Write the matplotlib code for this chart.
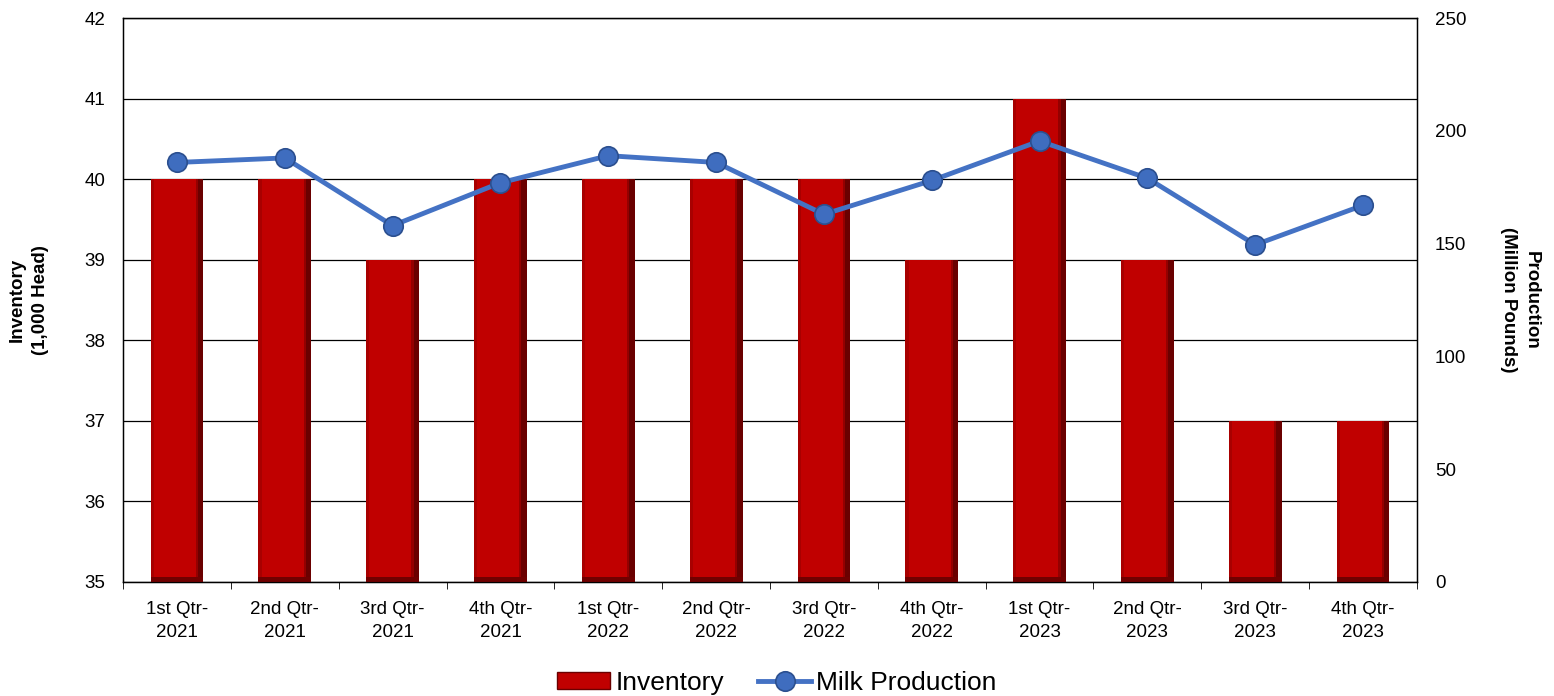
import matplotlib
matplotlib.use("Agg")
import matplotlib.pyplot as plt
import numpy as np
from matplotlib.patches import Patch

categories = ["1st Qtr-\n2021", "2nd Qtr-\n2021", "3rd Qtr-\n2021", "4th Qtr-\n2021",
              "1st Qtr-\n2022", "2nd Qtr-\n2022", "3rd Qtr-\n2022", "4th Qtr-\n2022",
              "1st Qtr-\n2023", "2nd Qtr-\n2023", "3rd Qtr-\n2023", "4th Qtr-\n2023"]
inventory = [40, 40, 39, 40, 40, 40, 40, 39, 41, 39, 37, 37]
milk = [186, 188, 158, 177, 189, 186, 163, 178, 195.5, 179, 149.5, 167]

plt.rcParams['font.family'] = ['Liberation Sans', 'DejaVu Sans']
FS = 13.5

fig = plt.figure(figsize=(15.54, 6.96), dpi=100)
ax = fig.add_axes([0.0792, 0.1638, 0.8326, 0.8102])
x = np.arange(len(categories))
bw = 0.49
base = 35
heights = [v - base for v in inventory]

ax.set_axisbelow(True)
ax.yaxis.grid(True, color='black', linewidth=0.9)
ax.bar(x, heights, bottom=base, width=bw, color='#C00000', zorder=2)
# bevel edges
ax.bar(x + bw/2 - 0.025, heights, bottom=base, width=0.05, color='#6a0000', zorder=3, linewidth=0)
ax.bar(x + bw/2 - 0.06, heights, bottom=base, width=0.02, color='#940000', zorder=3, linewidth=0)
ax.bar(x - bw/2 + 0.015, heights, bottom=base, width=0.03, color='#a80000', zorder=3, linewidth=0)
ax.bar(x, [0.06]*len(x), bottom=base, width=bw, color='#700000', zorder=3, linewidth=0)

ax.set_ylim(35, 42)
ax.set_xlim(-0.5, len(categories) - 0.5)
ax.set_yticks(range(35, 43))
ax.set_xticks(x)
ax.set_xticklabels(categories, fontsize=FS)
for lbl in ax.get_xticklabels():
    lbl.set_linespacing(1.45)
ax.set_xticks(np.arange(-0.5, len(categories)), minor=True)
ax.tick_params(axis='x', which='major', length=0, pad=14)
ax.tick_params(axis='x', which='minor', length=5, color='black')
ax.tick_params(axis='y', labelsize=FS, length=0, pad=13)
for s in ax.spines.values():
    s.set_color('black')
    s.set_linewidth(1)

ax2 = ax.twinx()
ax2.set_ylim(0, 250)
ax2.set_yticks(range(0, 251, 50))
ax2.tick_params(axis='y', labelsize=FS, length=0, pad=13)
line, = ax2.plot(x, milk, color='#4472C4', linewidth=3.5, marker='o', markersize=14,
                 markerfacecolor='#3F6DBF', markeredgecolor='#2B4F8F', markeredgewidth=1.2, zorder=5)
for s in ax2.spines.values():
    s.set_color('black')

fig.text(29/1554, 1 - 300/696, "Inventory\n(1,000 Head)", rotation=90, ha='center', va='center',
         multialignment='center', fontsize=FS, fontweight='bold', linespacing=1.45)
fig.text(1520/1554, 1 - 300/696, "Production\n(Million Pounds)", rotation=270, ha='center', va='center',
         multialignment='center', fontsize=FS, fontweight='bold', linespacing=1.45)

handles = [Patch(facecolor='#C00000', edgecolor='#6a0000'), line]
fig.legend(handles, ["Inventory", "Milk Production"], loc='center',
           bbox_to_anchor=(0.5, 1 - 683/696), ncol=2, frameon=False, fontsize=19,
           handlelength=2.0, handleheight=0.6, handletextpad=0.2, columnspacing=1.3,
           borderpad=0)

fig.savefig("out.png", dpi=100)
